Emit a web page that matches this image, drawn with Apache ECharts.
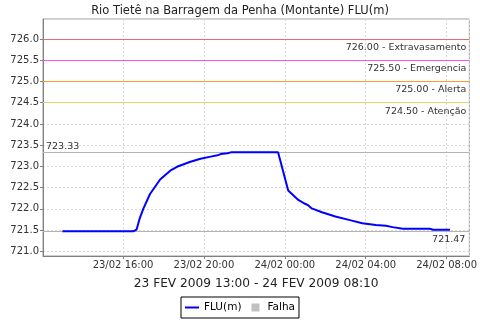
<!DOCTYPE html>
<html>
<head>
<meta charset="utf-8">
<script src="https://cdn.jsdelivr.net/npm/echarts@6/dist/echarts.min.js"></script>
<style>
html,body{margin:0;padding:0;background:#fff;}
#chart{width:480px;height:320px;}
</style>
</head>
<body>
<div id="chart"></div>
<script>
// ---- data ----
var times = [
  '2009-02-23 13:00','2009-02-23 16:30','2009-02-23 16:40','2009-02-23 16:50','2009-02-23 17:00',
  '2009-02-23 17:20','2009-02-23 17:50','2009-02-23 18:20','2009-02-23 18:40','2009-02-23 19:00',
  '2009-02-23 19:20','2009-02-23 19:50','2009-02-23 20:20','2009-02-23 20:40','2009-02-23 20:50',
  '2009-02-23 21:10','2009-02-23 21:20','2009-02-23 23:40','2009-02-24 00:10','2009-02-24 00:40',
  '2009-02-24 01:00','2009-02-24 01:10','2009-02-24 01:20','2009-02-24 01:50','2009-02-24 02:30',
  '2009-02-24 03:10','2009-02-24 03:50','2009-02-24 04:30','2009-02-24 05:00','2009-02-24 05:20',
  '2009-02-24 05:50','2009-02-24 07:10','2009-02-24 07:20','2009-02-24 08:10'
];
var levels = [
  721.47,721.47,721.51,721.79,722.00,
  722.35,722.69,722.90,722.99,723.05,
  723.11,723.18,723.23,723.26,723.29,
  723.31,723.33,723.33,722.43,722.21,
  722.12,722.08,722.01,721.92,721.82,
  721.74,721.66,721.62,721.60,721.57,
  721.53,721.53,721.51,721.51
];
var thresholdValues = [726.0, 725.5, 725.0, 724.5];
var thresholdNames = ['Extravasamento', 'Emergencia', 'Alerta', 'Atenção'];
var yTicksMin = 720.89, yTicksMax = 726.47;
var chartTitle = 'Rio Tietê na Barragem da Penha (Montante) FLU(m)';
var seriesName = 'FLU(m)';
var failName = 'Falha';
var periodLabel = '23 FEV 2009 13:00 - 24 FEV 2009 08:10';

// ---- styles ----
var thresholdColors = ['#e86a6a', '#ff4dff', '#ff9a33', '#e0d860'];

function toUTC(s){
  var p = s.split(/[- :]/).map(Number);
  return Date.UTC(p[0], p[1]-1, p[2], p[3], p[4]);
}
var tms = times.map(toUTC);
var seriesData = tms.map(function(t,i){ return [t, levels[i]]; });
var span = tms[tms.length-1] - tms[0];
var xMin = tms[0] - 0.05*span, xMax = tms[tms.length-1] + 0.05*span;
var vMax = Math.max.apply(null, levels), vMin = Math.min.apply(null, levels);

function pad(n){ return (n<10?'0':'')+n; }
function fmtTime(v){
  var d = new Date(v);
  return pad(d.getUTCDate())+'/'+pad(d.getUTCMonth()+1)+' '+pad(d.getUTCHours())+':'+pad(d.getUTCMinutes());
}

var lblStyle = {color: '#333', fontSize: 9.5, fontFamily: 'DejaVu Sans'};
var markData = thresholdValues.map(function(v,i){
  return {
    yAxis: v,
    lineStyle: {color: thresholdColors[i], type: 'solid', width: 1},
    label: Object.assign({show: true, position: 'insideEndBottom', formatter: v.toFixed(2) + ' - ' + thresholdNames[i], distance: [3, 3.5]}, lblStyle)
  };
});
markData.push({
  yAxis: vMax,
  lineStyle: {color: '#b4b4b4', type: 'solid', width: 1},
  label: Object.assign({show: true, position: 'insideStartTop', formatter: vMax.toFixed(2), distance: [3, 1]}, lblStyle)
});
markData.push({
  yAxis: vMin,
  lineStyle: {color: '#b4b4b4', type: 'solid', width: 1},
  label: Object.assign({show: true, position: 'insideEndBottom', formatter: vMin.toFixed(2), distance: [4, 3]}, lblStyle)
});

var chart = echarts.init(document.getElementById('chart'), null, {renderer: 'canvas'});
chart.setOption({
  animation: false,
  useUTC: true,
  backgroundColor: '#fff',
  textStyle: {fontFamily: 'DejaVu Sans'},
  title: {
    text: chartTitle, left: 'center', top: 5, padding: 0,
    textStyle: {fontSize: 11.5, fontWeight: 'normal', color: '#222', fontFamily: 'DejaVu Sans'}
  },
  grid: {left: 43, right: 7, top: 19, bottom: 64, show: true, borderColor: '#a0a0a0', borderWidth: 1, backgroundColor: '#fff'},
  legend: {
    left: 'center', top: 297, padding: [5, 4, 5, 4], itemGap: 10, itemWidth: 14, itemHeight: 8,
    borderColor: '#000', borderWidth: 1,
    textStyle: {fontSize: 10.5, color: '#000', fontFamily: 'DejaVu Sans'},
    data: [
      {name: seriesName, icon: 'path://M0,0H14V2H0Z', itemStyle: {color: '#0000ff'}},
      {name: failName, icon: 'path://M0,0H8V8H0Z', itemStyle: {color: '#c0c0c0'}}
    ]
  },
  xAxis: {
    type: 'time', min: xMin, max: xMax,
    minInterval: 4*3600*1000, maxInterval: 4*3600*1000,
    name: periodLabel, nameLocation: 'middle', nameGap: 28,
    nameTextStyle: {fontSize: 12.2, color: '#222', fontFamily: 'DejaVu Sans', verticalAlign: 'middle'},
    axisLine: {show: true, lineStyle: {color: '#808080'}},
    axisTick: {show: true, length: 3, lineStyle: {color: '#808080'}},
    axisLabel: {fontSize: 10, color: '#333', margin: 4, showMinLabel: false, showMaxLabel: false,
                formatter: function(v){ return fmtTime(v); }},
    splitLine: {show: true, lineStyle: {color: '#d8d8d8', type: [2, 2], width: 1}}
  },
  yAxis: {
    type: 'value', min: yTicksMin, max: yTicksMax,
    minInterval: 0.5, maxInterval: 0.5, splitNumber: 11,
    axisLine: {show: true, lineStyle: {color: '#808080'}},
    axisTick: {show: true, length: 3, lineStyle: {color: '#808080'}},
    axisLabel: {fontSize: 10, color: '#333', margin: 4, showMinLabel: false, showMaxLabel: false,
                formatter: function(v){ return Math.abs(v*2 - Math.round(v*2)) < 1e-6 ? v.toFixed(1) : ''; }},
    splitLine: {show: true, lineStyle: {color: '#d8d8d8', type: [2, 2], width: 1}}
  },
  series: [
    {
      name: seriesName, type: 'line', data: seriesData, showSymbol: false, symbol: 'none',
      lineStyle: {color: '#0000ff', width: 2}, itemStyle: {color: '#0000ff'}, z: 5,
      markLine: {silent: true, symbol: 'none', animation: false, data: markData, z: 3}
    },
    {
      name: failName, type: 'line', data: [], itemStyle: {color: '#c0c0c0'}
    }
  ]
});
</script>
</body>
</html>
